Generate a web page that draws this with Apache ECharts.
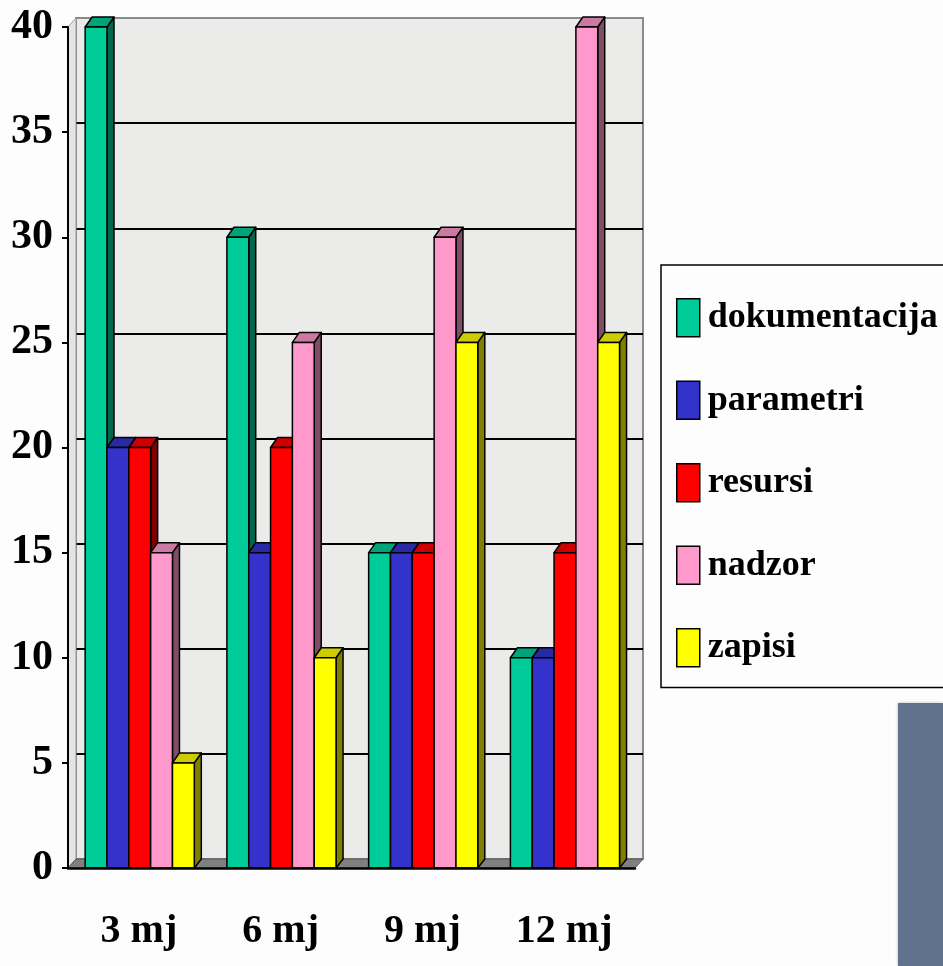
<!DOCTYPE html>
<html>
<head>
<meta charset="utf-8">
<script src="https://cdn.jsdelivr.net/npm/echarts@6/dist/echarts.min.js"></script>
<style>
  html, body { margin: 0; padding: 0; background: #fdfdfd; }
  #main { width: 943px; height: 966px; }
</style>
</head>
<body>
<div id="main"></div>
<script>
// podaci
const categories = ['3 mj', '6 mj', '9 mj', '12 mj'];
const dokumentacija = [40, 30, 15, 10];
const parametri = [20, 15, 15, 10];
const resursi = [20, 20, 15, 15];
const nadzor = [15, 25, 30, 40];
const zapisi = [5, 10, 25, 25];
const yMin = 0, yMax = 40, yStep = 5;

const seriesDefs = [
  { name: 'dokumentacija', values: dokumentacija, color: '#00CC99', side: '#00664C', top: '#00A37A' },
  { name: 'parametri', values: parametri, color: '#3333CC', side: '#1A1A66', top: '#2929A3' },
  { name: 'resursi', values: resursi, color: '#FF0000', side: '#800000', top: '#CC0000' },
  { name: 'nadzor', values: nadzor, color: '#FF99CC', side: '#804D66', top: '#CC7AA3' },
  { name: 'zapisi', values: zapisi, color: '#FFFF00', side: '#808000', top: '#CCCC00' }
];

const DX = 7, DY = -10;     // dubina stupca
const WDX = 8, WDY = -9;    // pomak stražnjeg zida
const font = 'Liberation Serif, Times New Roman, serif';

function barItem(s, def) {
  return function (params, api) {
    const ci = api.value(0);
    const v = api.value(1);
    const base = api.coord([ci, 0]);
    const top = api.coord([ci, v]);
    const band = api.size([1, 0])[0];
    const w = band * 0.154;
    const x0 = base[0] - band * 0.379 + s * w;
    const y0 = top[1], y1 = base[1];
    const stroke = { stroke: '#000', lineWidth: 1.5, lineJoin: 'round' };
    return {
      type: 'group',
      children: [
        { type: 'polygon', shape: { points: [[x0 + w, y0], [x0 + w, y1], [x0 + w + DX, y1 + WDY], [x0 + w + DX, y0 + DY]] },
          style: Object.assign({ fill: def.side }, stroke) },
        { type: 'polygon', shape: { points: [[x0, y0], [x0 + w, y0], [x0 + w + DX, y0 + DY], [x0 + DX, y0 + DY]] },
          style: Object.assign({ fill: def.top }, stroke) },
        { type: 'rect', shape: { x: x0, y: y0, width: w, height: y1 - y0 },
          style: Object.assign({ fill: def.color }, stroke) }
      ]
    };
  };
}

function wallsItem(params, api) {
  const cs = params.coordSys;
  const l = cs.x, r = cs.x + cs.width, b = cs.y + cs.height, t = cs.y;
  return {
    type: 'group',
    children: [
      // lijevi zid
      { type: 'polygon', shape: { points: [[l, b], [l + WDX, b + WDY], [l + WDX, t + WDY], [l, t]] },
        style: { fill: '#E4E4E4', stroke: '#9a9a9a', lineWidth: 1 } },
      // pod
      { type: 'polygon', shape: { points: [[l, b], [r, b], [r + WDX, b + WDY], [l + WDX, b + WDY]] },
        style: { fill: '#808080', stroke: '#555', lineWidth: 1 } }
    ]
  };
}

const chart = echarts.init(document.getElementById('main'));

const series = [
  {
    type: 'custom', name: 'walls', xAxisIndex: 0, yAxisIndex: 0, z: 1,
    data: [[0, 0]], renderItem: wallsItem, silent: true
  }
];
seriesDefs.forEach((def, s) => {
  series.push({
    type: 'custom',
    name: def.name,
    xAxisIndex: 0, yAxisIndex: 0, z: 2,
    itemStyle: { color: def.color },
    encode: { x: 0, y: 1 },
    data: def.values.map((v, i) => [i, v]),
    renderItem: barItem(s, def)
  });
});

const splitColors = [];
for (let v = yMin; v <= yMax; v += yStep) splitColors.push(v === yMin || v === yMax ? '#8a8a8a' : '#000');

chart.setOption({
  animation: false,
  backgroundColor: '#fdfdfd',
  grid: [
    { left: 68, right: 308, top: 27, bottom: 98 },
    { left: 68 + WDX, right: 308 - WDX, top: 27 + WDY, bottom: 98 - WDY,
      show: true, backgroundColor: '#EBEBEA', borderColor: '#8a8a8a', borderWidth: 2, z: 0 }
  ],
  xAxis: [
    {
      type: 'category', gridIndex: 0, data: categories, z: 5,
      axisLine: { lineStyle: { color: '#000', width: 2.5 } },
      axisTick: { length: 11, lineStyle: { color: '#222', width: 1 } },
      axisLabel: { color: '#000', fontFamily: font, fontWeight: 'bold', fontSize: 40, margin: 44 }
    },
    { type: 'category', gridIndex: 1, data: categories, show: false }
  ],
  yAxis: [
    {
      type: 'value', gridIndex: 0, min: yMin, max: yMax, interval: yStep, z: 5,
      axisLine: { show: true, lineStyle: { color: '#000', width: 2 } },
      axisTick: { show: true, length: 6, lineStyle: { color: '#000', width: 2 } },
      splitLine: { show: false },
      axisLabel: { color: '#000', fontFamily: font, fontWeight: 'bold', fontSize: 42, margin: 15 }
    },
    {
      type: 'value', gridIndex: 1, min: yMin, max: yMax, interval: yStep,
      axisLine: { show: false }, axisTick: { show: false }, axisLabel: { show: false },
      splitLine: { show: true, lineStyle: { color: splitColors, width: 2 } }
    }
  ],
  legend: {
    orient: 'vertical',
    left: 661, top: 265,
    padding: [33, 30, 20, 15],
    borderColor: '#000', borderWidth: 1.5,
    backgroundColor: '#fdfdfd',
    itemWidth: 23, itemHeight: 38, itemGap: 43,
    icon: 'rect',
    itemStyle: { borderColor: '#000', borderWidth: 1.5 },
    data: seriesDefs.map(d => d.name),
    textStyle: { color: '#000', fontFamily: font, fontWeight: 'bold', fontSize: 36, padding: [0, 0, 0, 3] }
  },
  graphic: [
    { type: 'rect', left: 898, top: 703, shape: { width: 45, height: 263 },
      style: { fill: '#60738D', shadowBlur: 3, shadowColor: 'rgba(0,0,0,0.25)' } }
  ],
  series: series
});
</script>
</body>
</html>
